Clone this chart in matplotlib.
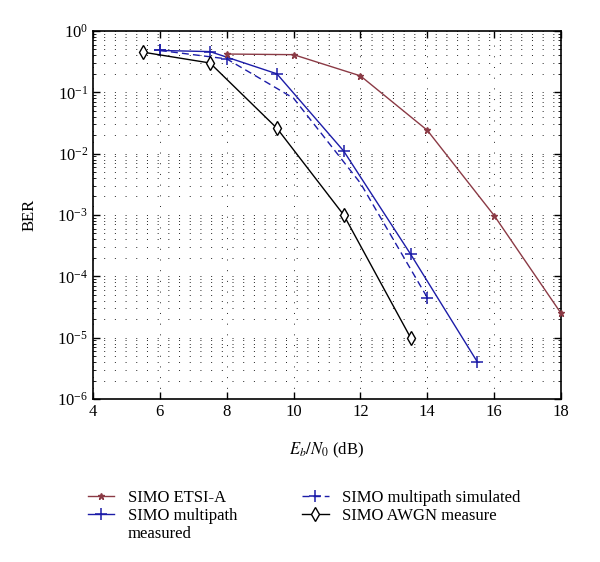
import numpy as np
import matplotlib
matplotlib.use("Agg")
import matplotlib.pyplot as plt
from matplotlib import rcParams
from matplotlib.ticker import LogLocator, NullFormatter, FixedLocator

rcParams['font.family'] = 'serif'
rcParams['font.serif'] = ['Liberation Serif', 'DejaVu Serif']
rcParams['mathtext.fontset'] = 'stix'
fts = 12

# data
ebn0_etsi = [8, 10, 12, 14, 16, 18]
ber_etsi = [0.42, 0.41, 0.185, 0.024, 9.8e-4, 2.5e-5]

ebn0_meas = [6, 7.5, 9.5, 11.5, 13.5, 15.5]
ber_meas = [0.48, 0.46, 0.2, 0.011, 2.3e-4, 4.0e-6]

ebn0_sim = [6, 8, 10, 12, 14]
ber_sim = [0.48, 0.35, 0.08, 0.0033, 4.5e-5]

ebn0_awgn = [5.5, 7.5, 9.5, 11.5, 13.5]
ber_awgn = [0.45, 0.30, 0.026, 1.0e-3, 1.0e-5]

red = '#8b3a45'
blue = '#1c1ca8'

fig = plt.figure(figsize=(6.0, 5.62), dpi=100)
ax = fig.add_axes([0.155, 0.290, 0.780, 0.655])

l1, = ax.semilogy(ebn0_etsi, ber_etsi, color=red, lw=1.0, marker='*', ms=5,
                  clip_on=False, zorder=5, label='SIMO ETSI-A')
l2, = ax.semilogy(ebn0_meas, ber_meas, color=blue, lw=1.0, marker='+', ms=9,
                  mew=1.1, label='SIMO multipath')
l3, = ax.semilogy(ebn0_sim, ber_sim, color=blue, lw=1.0, ls=(0, (5, 3)),
                  marker='+', ms=9, mew=1.1, markevery=[0, 1, 4],
                  label='SIMO multipath simulated')
l4, = ax.semilogy(ebn0_awgn, ber_awgn, color='k', lw=1.0, marker='d', ms=7,
                  mfc='white', mec='k', label='SIMO AWGN measure')

ax.set_xlim(4, 18)
ax.set_ylim(1e-6, 1)
ax.xaxis.set_major_locator(FixedLocator(np.arange(4, 19, 2)))
ax.yaxis.set_major_locator(LogLocator(base=10, numticks=10))
ax.yaxis.set_minor_locator(LogLocator(base=10, subs=np.arange(2, 10), numticks=10))
ax.yaxis.set_minor_formatter(NullFormatter())

# matlab style dotted grid
ax.grid(True, which='major', axis='both', color='#222222', lw=0.7, ls=(0, (1, 10)))
ax.grid(True, which='minor', axis='y', color='#222222', lw=0.7, ls=(0, (1, 10)))
ax.set_axisbelow(True)

ax.tick_params(which='both', direction='in', top=True, right=True, labelsize=fts)
ax.tick_params(which='major', length=5, width=1.0)
ax.tick_params(which='minor', length=2.5, width=0.6)
for s in ax.spines.values():
    s.set_linewidth(1.2)

ax.set_xlabel(r'$E_b/N_0$ (dB)', fontsize=fts, labelpad=15)
ax.set_ylabel('BER', fontsize=fts, labelpad=14)

leg = fig.legend(handles=[l1, l2, l3, l4], ncol=2, frameon=False, fontsize=fts,
                 loc='upper left', bbox_to_anchor=(0.135, 0.14), handlelength=1.6,
                 handletextpad=0.8, columnspacing=3.9, labelspacing=0.12,
                 borderaxespad=0)

# second line of the 'measured' entry sits under its text
fig.canvas.draw()
bb = leg.get_texts()[1].get_window_extent().transformed(fig.transFigure.inverted())
fig.text(bb.x0, bb.y0 - 0.004, 'measured', fontsize=fts, va='top', ha='left')

fig.savefig('out.png', dpi=100)
